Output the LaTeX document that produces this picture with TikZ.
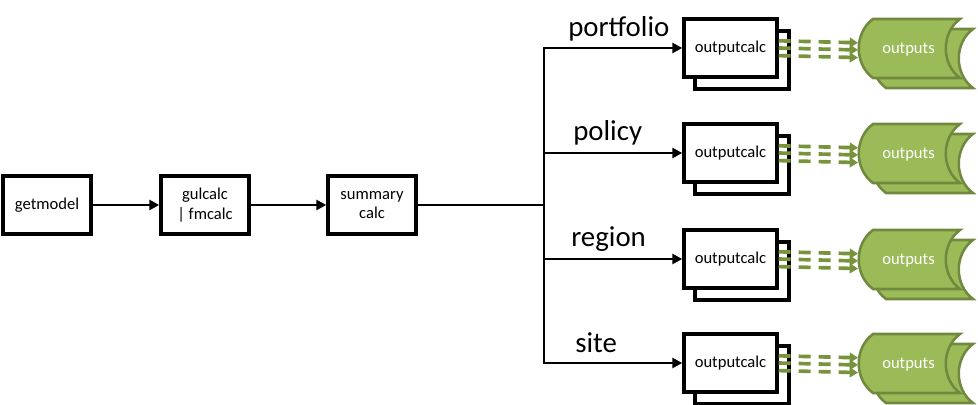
\documentclass[tikz,border=0pt]{standalone}
\usepackage{fontspec}
\setmainfont{Carlito}
\usetikzlibrary{positioning,arrows.meta}
\definecolor{outfill}{HTML}{9BBB59}
\definecolor{outline}{HTML}{71893F}
\definecolor{outdash}{HTML}{77933C}

\begin{document}
\begin{tikzpicture}[x=0.025cm, y=-0.025cm,
        box/.style={draw=black, line width=2.4pt, fill=white, align=center, inner sep=0pt,
            font=\fontsize{11.8}{14}\selectfont, minimum width=2.2cm, minimum height=1.45cm},
        calcbox/.style={box, minimum width=2.325cm},
        link/.style={line width=2.1pt, -{Triangle[length=7pt,width=7pt]}},
        flow/.style={draw=outdash, line width=2.6pt, dash pattern=on 0.3cm off 0.2cm,
            -{Triangle[length=6pt,width=7pt]}},
        store/.style={fill=outfill, draw=outline, line width=1.8pt},
        storetext/.style={text=white, font=\fontsize{11.8}{14}\selectfont, inner sep=0pt,
            minimum width=2.575cm, minimum height=1.45cm},
        level/.style={font=\fontsize{20.5}{24}\selectfont, anchor=base west, inner sep=0pt}]
        
        \useasboundingbox (0,0) rectangle (978,405);
        
        \node[box] (getmodel) at (47,205) {getmodel};
        \node[box] (gulcalc) at (205,205) {gulcalc\\| fmcalc};
        \node[box] (summary) at (372,205) {summary\\calc};
        \coordinate (split) at (544,205);
        
        \draw[link] (getmodel) -- (gulcalc);
        \draw[link] (gulcalc) -- (summary);
        \draw[line width=2.1pt] (summary) -- (split);
        
        % portfolio
        \begin{scope}[shift={(0,48)}]
        \draw[box] (695,-17) rectangle (789,41);
        \node[calcbox] (calc1) at (730.5,0) {outputcalc};
        \draw[store] (886,-19) -- (973,-19) .. controls (954,-5) and (954,26) .. (973,40) -- (886,40) .. controls (867,26) and (867,-5) .. cycle;
        \draw[store] (873,-29) -- (960,-29) .. controls (941,-15) and (941,16) .. (960,30) -- (873,30) .. controls (854,16) and (854,-15) .. cycle;
        \node[storetext] (out1) at (908.5,2) {outputs};
        \node[level] (portfolio) at (568,-11) {portfolio};
        \end{scope}
        
        % policy
        \begin{scope}[shift={(0,153)}]
        \draw[box] (695,-17) rectangle (789,41);
        \node[calcbox] (calc2) at (730.5,0) {outputcalc};
        \draw[store] (886,-19) -- (973,-19) .. controls (954,-5) and (954,26) .. (973,40) -- (886,40) .. controls (867,26) and (867,-5) .. cycle;
        \draw[store] (873,-29) -- (960,-29) .. controls (941,-15) and (941,16) .. (960,30) -- (873,30) .. controls (854,16) and (854,-15) .. cycle;
        \node[storetext] (out2) at (908.5,2) {outputs};
        \node[level] (policy) at (573,-12) {policy};
        \end{scope}
        
        % region
        \begin{scope}[shift={(0,259)}]
        \draw[box] (695,-17) rectangle (789,41);
        \node[calcbox] (calc3) at (730.5,0) {outputcalc};
        \draw[store] (886,-19) -- (973,-19) .. controls (954,-5) and (954,26) .. (973,40) -- (886,40) .. controls (867,26) and (867,-5) .. cycle;
        \draw[store] (873,-29) -- (960,-29) .. controls (941,-15) and (941,16) .. (960,30) -- (873,30) .. controls (854,16) and (854,-15) .. cycle;
        \node[storetext] (out3) at (908.5,2) {outputs};
        \node[level] (region) at (571,-12) {region};
        \end{scope}
        
        % site
        \begin{scope}[shift={(0,363)}]
        \draw[box] (695,-17) rectangle (789,41);
        \node[calcbox] (calc4) at (730.5,0) {outputcalc};
        \draw[store] (886,-19) -- (973,-19) .. controls (954,-5) and (954,26) .. (973,40) -- (886,40) .. controls (867,26) and (867,-5) .. cycle;
        \draw[store] (873,-29) -- (960,-29) .. controls (941,-15) and (941,16) .. (960,30) -- (873,30) .. controls (854,16) and (854,-15) .. cycle;
        \node[storetext] (out4) at (908.5,2) {outputs};
        \node[level] (site) at (575,-10) {site};
        \end{scope}
        
        \draw[link] (split) |- (calc1);
        \draw[link] (split) |- (calc2);
        \draw[link] (split) |- (calc3);
        \draw[link] (split) |- (calc4);
        
        \foreach \n in {1,2,3,4}
            \foreach \dy in {-0.19cm,0cm,0.18cm}
                \draw[flow] ([yshift=\dy]calc\n.east) -- ([yshift=\dy,xshift=1pt]out\n.west);
        
\end{tikzpicture}
\end{document}
